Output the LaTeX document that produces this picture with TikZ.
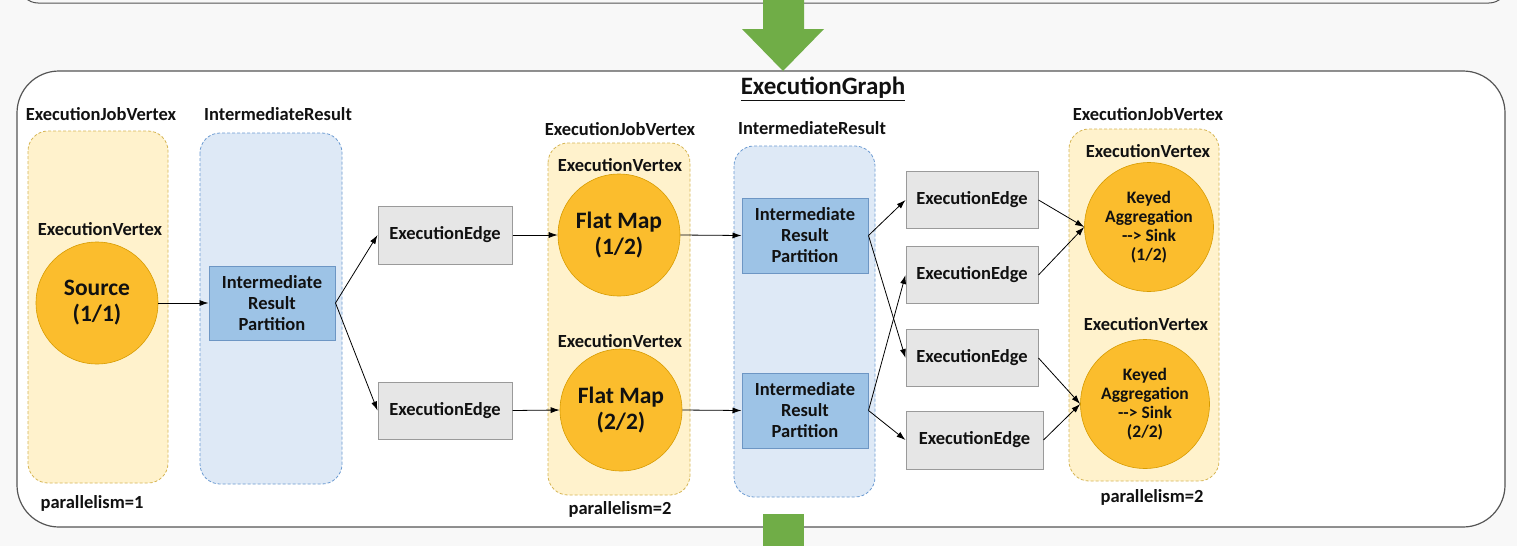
\documentclass[tikz,border=0pt]{standalone}
\usepackage{fontspec}
\setmainfont{Carlito}
\usetikzlibrary{arrows.meta}
\definecolor{bggray}{HTML}{F8F8F8}
\definecolor{boxline}{HTML}{555555}
\definecolor{yfill}{HTML}{FFF2CC}
\definecolor{ybord}{HTML}{D6B656}
\definecolor{bfill}{HTML}{DEE9F6}
\definecolor{bbord}{HTML}{6C9BD2}
\definecolor{irpfill}{HTML}{9DC3E6}
\definecolor{irpbord}{HTML}{6D96C4}
\definecolor{eefill}{HTML}{E6E6E6}
\definecolor{eebord}{HTML}{9A9A9A}
\definecolor{cfill}{HTML}{FBBD2D}
\definecolor{cbord}{HTML}{D79B00}
\definecolor{garrow}{HTML}{70AD47}
\definecolor{txt}{HTML}{111111}
\begin{document}
\begin{tikzpicture}[x=1pt,y=-1pt,
  lbl/.style={font=\fontsize{18.5}{22}\selectfont\bfseries, text=txt, inner sep=0pt},
  ycont/.style={draw=ybord, fill=yfill, dash pattern=on 3pt off 2pt, rounded corners=20pt, line width=0.8pt},
  bcont/.style={draw=bbord, fill=bfill, dash pattern=on 3pt off 2pt, rounded corners=20pt, line width=0.8pt},
  irp/.style={draw=irpbord, fill=irpfill, line width=1pt, minimum width=126pt, minimum height=75pt, inner sep=0pt, align=center, text=txt, font=\fontsize{18.5}{21}\selectfont\bfseries},
  ee/.style={draw=eebord, fill=eefill, line width=1pt, minimum width=134pt, minimum height=57pt, inner sep=0pt, text=txt, font=\fontsize{18.5}{22}\selectfont\bfseries},
  op/.style={circle, draw=cbord, fill=cfill, line width=0.6pt, minimum size=122pt, inner sep=0pt, align=center, text=txt, font=\fontsize{23.5}{26}\selectfont\bfseries},
  opk/.style={circle, draw=cbord, fill=cfill, line width=0.6pt, minimum size=129pt, inner sep=0pt, align=center, text=txt, font=\fontsize{17.5}{19}\selectfont\bfseries},
  conn/.style={-{Latex[length=9pt,width=6pt]}, line width=0.8pt, draw=black}
]
\fill[bggray] (0,0) rectangle (1517,546);
\useasboundingbox (0,0) rectangle (1517,546);
% top box (partial)
\draw[boxline, line width=1pt, rounded corners=18pt] (20,-40) -- (20,3) -- (1507,3) -- (1507,-40);
% graph box
\draw[boxline, fill=white, line width=1.2pt, rounded corners=42pt] (17,71) rectangle (1505,527);
% green arrows
\fill[garrow] (763,0) -- (763,29) -- (742,29) -- (783,71) -- (824,29) -- (804,29) -- (804,0) -- cycle;
\fill[garrow] (763,514) rectangle (804,546);
% title
\node[font=\fontsize{25}{28}\selectfont\bfseries, text=txt, inner sep=0pt] (title) at (823,89) {\underline{ExecutionGraph}};
% containers
\draw[ycont] (28,131) rectangle (168,483);
\draw[bcont] (200,133) rectangle (342,484);
\draw[ycont] (548,143) rectangle (690,495);
\draw[bcont] (734,146) rectangle (875,497);
\draw[ycont] (1069,129) rectangle (1219,481);
% labels
\node[lbl] (jv1) at (101,114) {ExecutionJobVertex};
\node[lbl] (ir1) at (278,114) {IntermediateResult};
\node[lbl] (jv2) at (620,129) {ExecutionJobVertex};
\node[lbl] (ir2) at (812,128) {IntermediateResult};
\node[lbl] (jv3) at (1148,114) {ExecutionJobVertex};
\node[lbl] (ev1) at (100,229) {ExecutionVertex};
\node[lbl] (ev2) at (620,165) {ExecutionVertex};
\node[lbl] (ev3) at (620,341) {ExecutionVertex};
\node[lbl] (ev4) at (1148,151) {ExecutionVertex};
\node[lbl] (ev5) at (1146,324) {ExecutionVertex};
\node[lbl] (p1) at (92,503) {parallelism=1};
\node[lbl] (p2) at (620,509) {parallelism=2};
\node[lbl] (p3) at (1152,497) {parallelism=2};
% operators
\node[op] (src) at (97,303) {Source\\(1/1)};
\node[op] (fm1) at (619,235) {Flat Map\\(1/2)};
\node[op] (fm2) at (621,410) {Flat Map\\(2/2)};
\node[opk] (ka1) at (1149,227) {Keyed\\Aggregation\\-{}-{}> Sink\\(1/2)};
\node[opk] (ka2) at (1145,404) {Keyed\\Aggregation\\-{}-{}> Sink\\(2/2)};
% partitions
\node[irp, minimum height=74pt] (irp0) at (272,303) {Intermediate\\Result\\Partition};
\node[irp] (irp1) at (805,235.5) {Intermediate\\Result\\Partition};
\node[irp] (irp2) at (805,410.5) {Intermediate\\Result\\Partition};
% edges
\node[ee, minimum height=58pt] (ee1) at (445,235) {ExecutionEdge};
\node[ee] (ee2) at (445,410.5) {ExecutionEdge};
\node[ee, minimum width=132pt] (ee3) at (972,200) {ExecutionEdge};
\node[ee, minimum width=132pt] (ee4) at (972,275) {ExecutionEdge};
\node[ee, minimum width=132pt] (ee5) at (972,358) {ExecutionEdge};
\node[ee, minimum width=137pt, minimum height=58pt] (ee6) at (974.5,440) {ExecutionEdge};
% connectors
\draw[conn] (src.east) -- (irp0.west);
\draw[conn] (irp0.east) -- (ee1.west);
\draw[conn] (irp0.east) -- (ee2.west);
\draw[conn] (ee1.east) -- (fm1.west);
\draw[conn] (ee2.east) -- (fm2.west);
\draw[conn] (fm1.east) -- (irp1.west);
\draw[conn] (fm2.east) -- (irp2.west);
\draw[conn] (irp1.east) -- (ee3.west);
\draw[conn] (irp1.east) -- (ee5.west);
\draw[conn] (irp2.east) -- (ee4.west);
\draw[conn] (irp2.east) -- (ee6.west);
\draw[conn] (ee3.east) -- (ka1.west);
\draw[conn] (ee4.east) -- (ka1.west);
\draw[conn] (ee5.east) -- (ka2.west);
\draw[conn] (ee6.east) -- (ka2.west);
\end{tikzpicture}
\end{document}
